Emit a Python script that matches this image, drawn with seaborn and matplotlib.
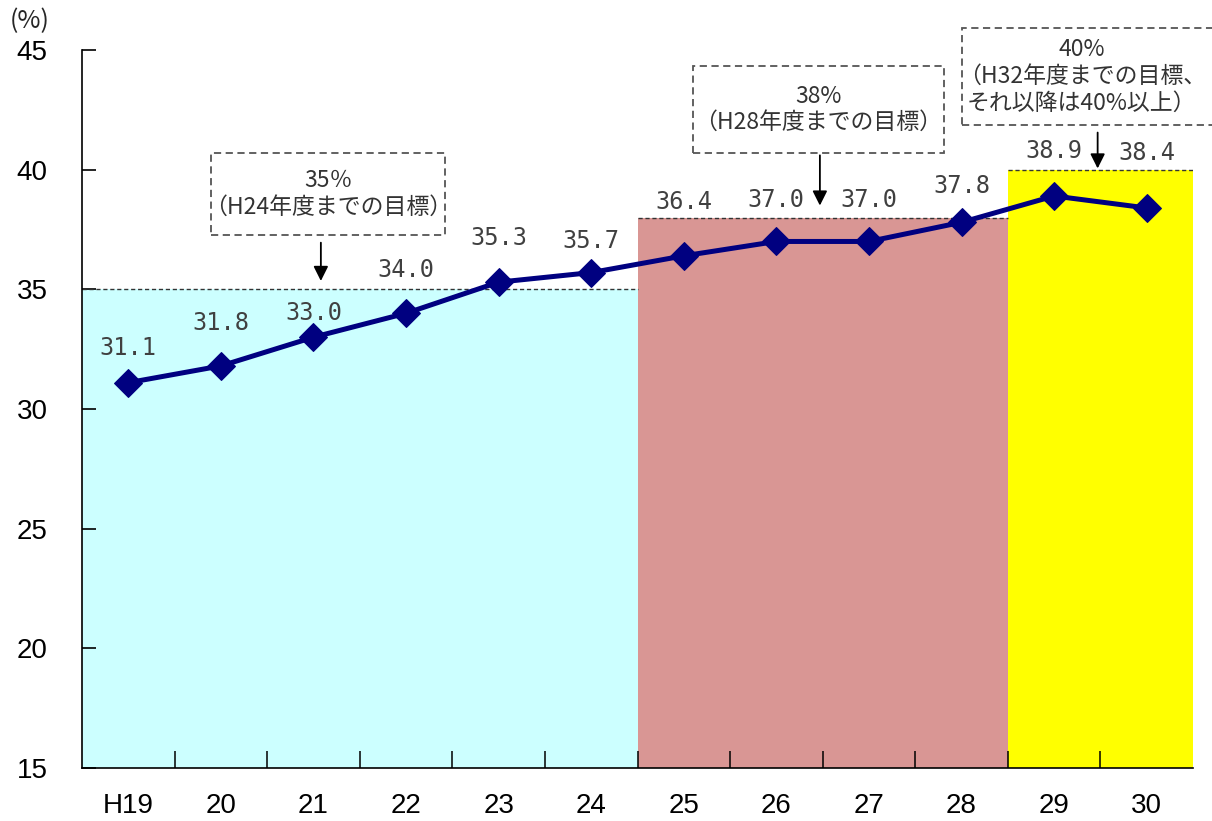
"""
目標達成率の推移（H19〜H30）を折れ線 + 目標帯で描く
"""
import matplotlib
matplotlib.use("Agg")
import matplotlib.pyplot as plt
from matplotlib.patches import Rectangle
import numpy as np
import pandas as pd
import seaborn as sns

years = ["H19", "20", "21", "22", "23", "24", "25", "26", "27", "28", "29", "30"]
rates = [31.1, 31.8, 33.0, 34.0, 35.3, 35.7, 36.4, 37.0, 37.0, 37.8, 38.9, 38.4]

# 目標帯: 開始/終了の年度インデックスと目標値
target_start = [0, 6, 10]
target_end = [5, 9, 11]
target_values = [35, 38, 40]
target_colors = ["#CCFFFF", "#D99694", "#FFFF00"]
target_notes = [
    "35％\n（H24年度までの目標）",
    "38%\n（H28年度までの目標）",
    "40%\n（H32年度までの目標、\nそれ以降は40%以上）",
]

# レイアウト（ラベルの縦オフセット px、注記枠 x0, x1, y0, y1、文字中心 x、矢印）
label_dy = [35, 43, 24, 43, 44, 32, 54, 41, 41, 36, 45, 55]
note_box = [(0.893, 3.421, 37.27, 40.70),
            (6.100, 8.811, 40.70, 44.34),
            (9.005, 11.80, 41.87, 45.92)]
note_x = [2.157, 7.455, 10.30]
arrow_x = [2.08, 7.47, 10.47]
arrow_y = [(36.95, 35.35), (40.6, 38.5), (41.55, 40.05)]

sns.set_style("white")
plt.rcParams["font.family"] = ["Noto Sans CJK JP", "DejaVu Sans"]

df = pd.DataFrame({"idx": np.arange(len(years)), "rate": rates})

fig = plt.figure(figsize=(12.12, 8.21), dpi=100)
ax = fig.add_axes([82 / 1212, 53 / 821, 1111 / 1212, 718 / 821])

for s, e, v, c in zip(target_start, target_end, target_values, target_colors):
    xs = [s - 0.5, e + 0.5]
    ax.fill_between(xs, [15, 15], [v, v], color=c, lw=0, zorder=0)
    ax.plot(xs, [v, v], ls=(0, (3, 2)), color="#333333", lw=1.0, zorder=1)

sns.lineplot(data=df, x="idx", y="rate", ax=ax, color="#000080", lw=3.6,
             marker="D", markersize=14, markeredgecolor="#000080", zorder=3)

for i, (v, dy) in enumerate(zip(rates, label_dy)):
    ax.annotate(f"{v:.1f}", (i, v), xytext=(0, dy), textcoords="offset pixels",
                ha="center", va="center", fontsize=17, color="#404040",
                family=["DejaVu Sans Mono"], zorder=4)

for note, (x0, x1, y0, y1), tx, axx, (a0, a1) in zip(target_notes, note_box, note_x,
                                                     arrow_x, arrow_y):
    ax.add_patch(Rectangle((x0, y0), x1 - x0, y1 - y0, fc="white", ec="#555555",
                           ls=(0, (4, 2.5)), lw=1.3, clip_on=False, zorder=5))
    ax.text(tx, (y0 + y1) / 2, note, ha="center", va="center",
            fontsize=16.5, color="#333333", linespacing=1.2, clip_on=False,
            zorder=6)
    ax.annotate("", xy=(axx, a1), xytext=(axx, a0),
                arrowprops=dict(arrowstyle="-|>", color="black", lw=1.3,
                                mutation_scale=22, shrinkA=0, shrinkB=0),
                annotation_clip=False, zorder=5)

ax.set_xlim(-0.5, len(years) - 0.5)
ax.set_ylim(15, 45)
ax.set_yticks(np.arange(15, 46, 5))
ax.set_xticks(np.arange(len(years)))
ax.set_xticklabels(years)
ax.set_xticks(np.arange(0.5, len(years) - 1, 1), minor=True)
ax.tick_params(axis="x", which="major", bottom=True, length=0, pad=18)
ax.tick_params(axis="x", which="minor", bottom=True, direction="in", length=12,
               width=1.1, color="black")
ax.tick_params(axis="y", left=True, direction="in", length=10, width=1.2,
               color="black", pad=36)
for lab in ax.get_xticklabels() + ax.get_yticklabels():
    lab.set_family(["Liberation Sans Narrow", "Liberation Sans"])
    lab.set_fontsize(20)
    lab.set_color("black")
for lab in ax.get_yticklabels():
    lab.set_horizontalalignment("center")
ax.set_xlabel("")
ax.set_ylabel("")

sns.despine(ax=ax, top=True, right=True)
for sp in ("left", "bottom"):
    ax.spines[sp].set_color("black")
    ax.spines[sp].set_linewidth(1.2)

fig.text(10 / 1212, 1 - 21 / 821, "(%)", fontsize=18, va="center", ha="left",
         family=["Noto Sans CJK JP", "DejaVu Sans"])

fig.savefig("out.png", dpi=100)
